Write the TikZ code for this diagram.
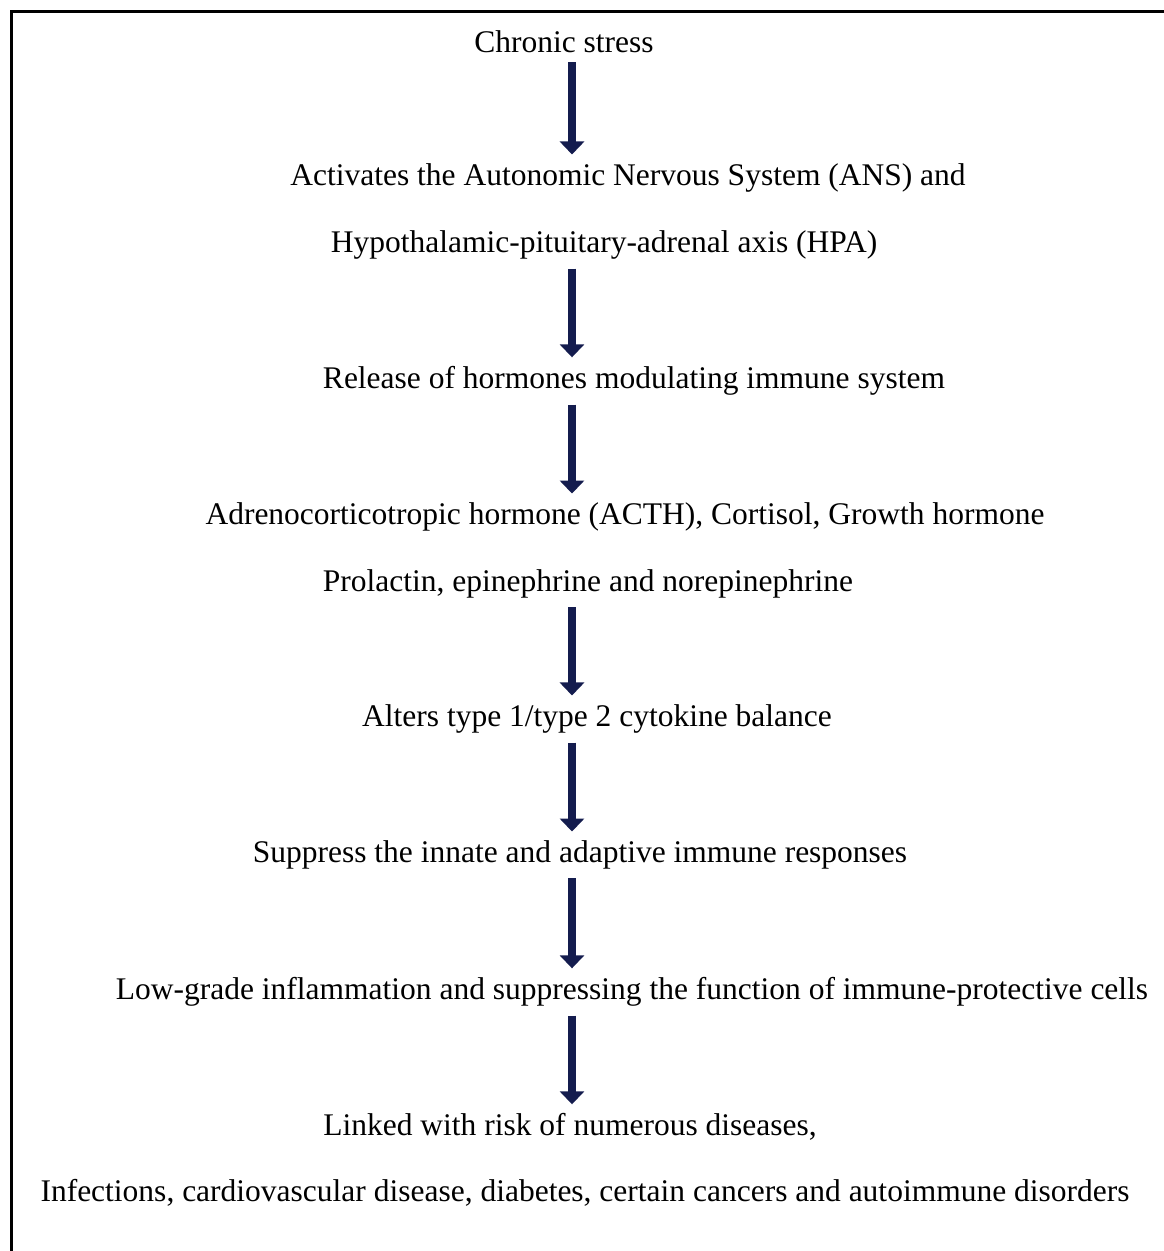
\documentclass[tikz,border=0pt]{standalone}
\usepackage{fontspec}
\setmainfont{Liberation Serif}
\usepackage{xcolor}
\usepackage{tikz}
\usetikzlibrary{arrows.meta, positioning}

\definecolor{arrownavy}{RGB}{20,28,78}

\begin{document}
\begin{tikzpicture}[x=1pt, y=-1pt,
    stage/.style={inner sep=6pt, font=\fontsize{31.5}{36}\selectfont},
    flow/.style={draw=arrownavy, line width=8pt, shorten <=3pt, shorten >=3pt,
        -{Triangle[width=24pt, length=13pt, fill=arrownavy]}}]
    \useasboundingbox (0,0) rectangle (1163,1251);
    \draw[line width=3pt] (11,11) rectangle (1180,1270);
    \coordinate (ax) at (572,0);

    \node[stage] (stress) at (564,42) {Chronic stress};
    \node[stage] (ans) at (628,178) {Activates the Autonomic Nervous System (ANS) and};
    \node[stage] (hpa) at (604,245) {Hypothalamic-pituitary-adrenal axis (HPA)};
    \node[stage] (release) at (634,381) {Release of hormones modulating immune system};
    \node[stage] (acth) at (625,517) {Adrenocorticotropic hormone (ACTH), Cortisol, Growth hormone};
    \node[stage] (prolactin) at (588,584) {Prolactin, epinephrine and norepinephrine};
    \node[stage] (cytokine) at (597,719) {Alters type 1/type 2 cytokine balance};
    \node[stage] (suppress) at (580,855) {Suppress the innate and adaptive immune responses};
    \node[stage] (lowgrade) at (632,992) {Low-grade inflammation and suppressing the function of immune-protective cells};
    \node[stage] (linked) at (570,1127) {Linked with risk of numerous diseases,};
    \node[stage] (diseases) at (585,1193) {Infections, cardiovascular disease, diabetes, certain cancers and autoimmune disorders};

    \draw[flow] (stress.south -| ax) -- (ans.north -| ax);
    \draw[flow] (hpa.south -| ax) -- (release.north -| ax);
    \draw[flow] (release.south -| ax) -- (acth.north -| ax);
    \draw[flow] (prolactin.south -| ax) -- (cytokine.north -| ax);
    \draw[flow] (cytokine.south -| ax) -- (suppress.north -| ax);
    \draw[flow] (suppress.south -| ax) -- (lowgrade.north -| ax);
    \draw[flow] (lowgrade.south -| ax) -- (linked.north -| ax);
\end{tikzpicture}
\end{document}
